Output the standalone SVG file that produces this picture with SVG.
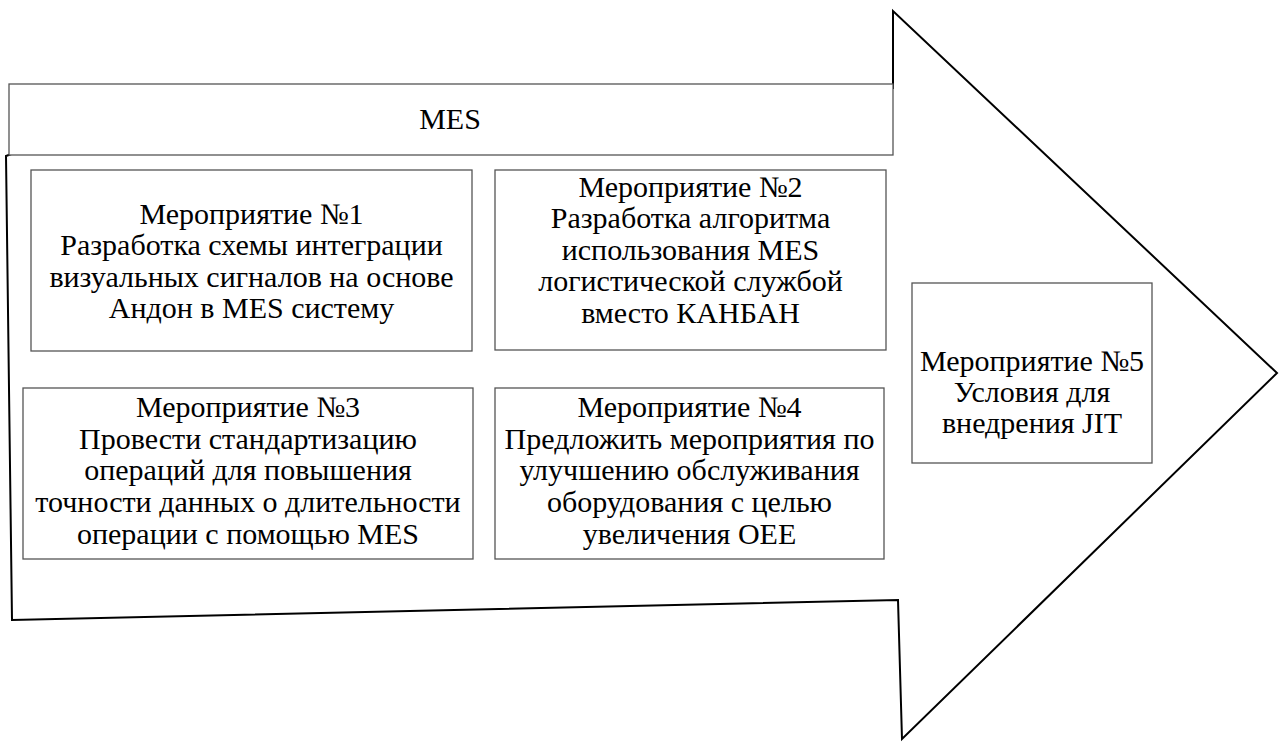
<svg xmlns="http://www.w3.org/2000/svg" width="1285" height="742" viewBox="0 0 1285 742">
  <style>
    .arrow { fill: #ffffff; stroke: #000000; stroke-width: 2; stroke-linejoin: miter; }
    .box { fill: #ffffff; stroke: #555555; stroke-width: 1.3; }
    .lbl { font-family: 'Liberation Serif', 'Times New Roman', serif; font-size: 30px; fill: #000000; text-anchor: middle; }
  </style>
  <rect x="0" y="0" width="1285" height="742" fill="#ffffff"/>

  <!-- Big process arrow -->
  <g id="arrow">
    <path class="arrow" d="M6,156 L12,620 L898,600 L902,739 L1277,373 L893,11 L893,88 L14,153 Z"/>
  </g>

  <!-- Header strip -->
  <g id="mes">
    <rect class="box" x="9" y="84" width="884" height="71"/>
    <text class="lbl" x="450" y="129">MES</text>
  </g>

  <g id="step1">
    <rect class="box" x="31" y="170" width="441" height="181"/>
    <text class="lbl" x="251.5" y="224">Мероприятие №1</text>
    <text class="lbl" x="251.5" y="255">Разработка схемы интеграции</text>
    <text class="lbl" x="251.5" y="287">визуальных сигналов на основе</text>
    <text class="lbl" x="251.5" y="318">Андон в MES систему</text>
  </g>

  <g id="step2">
    <rect class="box" x="495" y="170" width="391" height="180"/>
    <text class="lbl" x="690.5" y="197">Мероприятие №2</text>
    <text class="lbl" x="690.5" y="228">Разработка алгоритма</text>
    <text class="lbl" x="690.5" y="260">использования MES</text>
    <text class="lbl" x="690.5" y="291">логистической службой</text>
    <text class="lbl" x="690.5" y="323">вместо КАНБАН</text>
  </g>

  <g id="step3">
    <rect class="box" x="23" y="388" width="450" height="171"/>
    <text class="lbl" x="248" y="417">Мероприятие №3</text>
    <text class="lbl" x="248" y="449">Провести стандартизацию</text>
    <text class="lbl" x="248" y="480">операций для повышения</text>
    <text class="lbl" x="248" y="512">точности данных о длительности</text>
    <text class="lbl" x="248" y="544">операции с помощью MES</text>
  </g>

  <g id="step4">
    <rect class="box" x="495" y="388" width="389" height="171"/>
    <text class="lbl" x="689.5" y="417">Мероприятие №4</text>
    <text class="lbl" x="689.5" y="449">Предложить мероприятия по</text>
    <text class="lbl" x="689.5" y="480">улучшению обслуживания</text>
    <text class="lbl" x="689.5" y="512">оборудования с целью</text>
    <text class="lbl" x="689.5" y="544">увеличения OEE</text>
  </g>

  <g id="step5">
    <rect class="box" x="912" y="283" width="240" height="180"/>
    <text class="lbl" x="1032" y="371">Мероприятие №5</text>
    <text class="lbl" x="1032" y="402">Условия для</text>
    <text class="lbl" x="1032" y="433">внедрения JIT</text>
  </g>

  <!-- no separate connectors: the arrow itself carries the flow -->
  <g id="connectors"/>
</svg>
